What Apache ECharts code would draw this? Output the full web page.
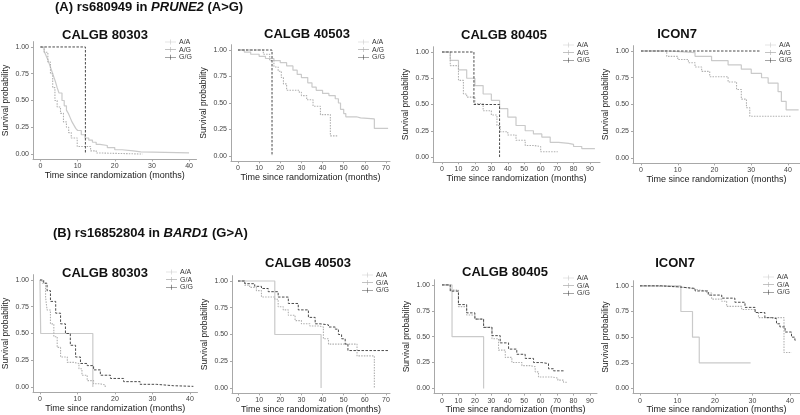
<!DOCTYPE html>
<html><head><meta charset="utf-8">
<script src="https://cdn.jsdelivr.net/npm/echarts@6/dist/echarts.min.js"></script>
<style>html,body{margin:0;padding:0;background:#fff}#c{width:800px;height:415px}</style>
</head><body><div id="c"></div>
<script>
// ---------- DATA (time in months, survival probability) ----------
const headerA = ['(A) rs680949 in ', 'PRUNE2', ' (A>G)'];
const headerB = ['(B) rs16852804 in ', 'BARD1', ' (G>A)'];
const studyTitles = ['CALGB 80303', 'CALGB 40503', 'CALGB 80405', 'ICON7'];
const genotypesA = ['A/A', 'A/G', 'G/G'];
const genotypesB = ['A/A', 'G/A', 'G/G'];
const xTicks40 = [0, 10, 20, 30, 40];
const xTicks70 = [0, 10, 20, 30, 40, 50, 60, 70];
const xTicks90 = [0, 10, 20, 30, 40, 50, 60, 70, 80, 90];
const yTicks = [0, 0.25, 0.5, 0.75, 1];
const xName = 'Time since randomization (months)';
const yName = 'Survival probability';

// (A) CALGB 80303
const A1_AA = [[0,1],[0.5,0.99],[1,0.96],[1.5,0.92],[2,0.88],[2.5,0.83],[3,0.78],[3.5,0.73],[4,0.68],[4.5,0.62],[5,0.57],[5.8,0.5],[6.4,0.45],[7,0.41],[7.5,0.38],[8,0.34],[8.5,0.3],[9,0.27],[9.5,0.24],[10,0.22],[11,0.18],[12,0.15],[13,0.13],[14,0.11],[15,0.09],[16,0.08],[18,0.06],[20,0.04],[22,0.03],[25,0.02],[27,0.01],[40,0.01]];
const A1_AG = [[0,1],[1,0.95],[2,0.86],[2.7,0.75],[3.3,0.62],[3.9,0.5],[4.5,0.44],[5.4,0.38],[6.2,0.3],[7,0.25],[7.6,0.2],[8.3,0.15],[9.9,0.07],[13.5,0.03],[15,0.01],[16,0],[27.5,0]];
const A1_GG = [[0,1],[12.1,0]];
// (A) CALGB 40503
const A2_AA = [[0,1],[3,0.98],[6,0.96],[10,0.94],[13,0.92],[17,0.9],[20,0.88],[23,0.85],[26,0.81],[28,0.77],[30,0.74],[33,0.69],[35,0.65],[37,0.62],[40,0.59],[43,0.57],[46,0.54],[47.5,0.5],[48.5,0.44],[50,0.4],[51,0.37],[56,0.36],[58,0.35],[64.5,0.26],[71,0.26]];
const A2_AG = [[0,1],[12,0.96],[15,0.9],[17,0.84],[19,0.8],[20.5,0.74],[21.5,0.68],[23,0.62],[29,0.6],[30,0.57],[32.5,0.53],[35.5,0.47],[39,0.39],[43.7,0.19],[47,0.19]];
const A2_GG = [[0,1],[16.1,0]];
// (A) CALGB 80405
const A3_AA = [[0,1],[5,0.92],[10,0.83],[15,0.75],[20,0.68],[25,0.6],[30,0.54],[35,0.46],[40,0.38],[45,0.3],[50.6,0.25],[55.6,0.22],[60.7,0.19],[65.8,0.14],[70.9,0.13],[77,0.12],[80,0.1],[85,0.08],[93,0.08]];
const A3_AG = [[0,1],[5,0.87],[10,0.73],[13,0.6],[15,0.57],[20,0.51],[25,0.44],[30,0.4],[33.4,0.3],[35.4,0.24],[40,0.21],[45,0.16],[50.6,0.11],[55.6,0.1],[60,0.05],[70.4,0.05]];
const A3_GG = [[0,1],[19.4,0.5],[35,0]];
// (A) ICON7
const A4_AA = [[0,1],[7,0.995],[10.6,0.985],[14.7,0.95],[19.2,0.91],[23.7,0.87],[27.3,0.83],[30,0.79],[32.8,0.75],[34.6,0.7],[37.3,0.62],[38.2,0.53],[39.5,0.45],[42.9,0.45]];
const A4_AG = [[0,1],[7,0.95],[10,0.92],[12.9,0.89],[14.7,0.85],[16.5,0.81],[18.7,0.76],[23.7,0.71],[26,0.64],[27.3,0.55],[28.7,0.47],[29.6,0.39],[41,0.39]];
const A4_GG = [[0,1],[32.5,1]];
// (B) CALGB 80303
const B1_AA = [[0,1],[0.2,0.5],[14.1,0]];
const B1_GA = [[0,1],[0.6,0.97],[1.5,0.84],[1.9,0.72],[2.8,0.59],[3.7,0.47],[4.6,0.37],[5.5,0.28],[7.3,0.23],[9,0.22],[10.4,0.17],[11.2,0.11],[12.6,0.06],[14.3,0.03],[16,0.02],[17.4,0]];
const B1_GG = [[0,1],[1,0.97],[1.9,0.9],[2.8,0.8],[4.2,0.69],[5.5,0.59],[6.8,0.5],[8.1,0.39],[9.5,0.28],[10.8,0.22],[12.6,0.2],[14.3,0.16],[16.1,0.11],[18.8,0.08],[22.3,0.05],[26.7,0.025],[31,0.012],[35.6,0.006],[40.9,0.006]];
// (B) CALGB 40503
const B2_AA = [[0,1],[17.4,0.5],[39.3,0]];
const B2_GA = [[0,1],[3.2,0.96],[5.5,0.94],[8.7,0.91],[11.1,0.85],[17.4,0.83],[19,0.76],[21.4,0.73],[23.8,0.68],[27,0.63],[30,0.6],[34,0.58],[38,0.57],[40.4,0.46],[42.8,0.41],[56.3,0.3],[64.5,0]];
const B2_GG = [[0,1],[3.2,0.975],[7.9,0.95],[11.1,0.93],[14.3,0.9],[19,0.85],[23.8,0.79],[28.5,0.73],[33.3,0.66],[36.5,0.6],[38.8,0.59],[42.8,0.57],[46,0.55],[47.5,0.5],[49,0.46],[50.7,0.41],[52,0.35],[71.3,0.35]];
// (B) CALGB 80405
const B3_AA = [[0,1],[6.1,0.5],[25.3,0]];
const B3_GA = [[0,1],[5,0.95],[10,0.79],[15,0.71],[20,0.67],[25.3,0.59],[30.4,0.48],[34.4,0.37],[38.5,0.3],[42.5,0.25],[48.6,0.22],[53.6,0.21],[56.7,0.16],[58.7,0.11],[66.8,0.1],[70.5,0.08],[73.9,0.06],[76.5,0.06]];
const B3_GG = [[0,1],[5,0.94],[10,0.81],[15,0.73],[20,0.67],[25.3,0.59],[30.4,0.51],[35.4,0.44],[40.5,0.38],[45.5,0.33],[50.6,0.29],[55.7,0.25],[60.7,0.24],[64.8,0.19],[67.8,0.17],[74.5,0.17]];
// (B) ICON7
const B4_AA = [[0,1],[10.9,0.75],[14,0.5],[15.8,0.25],[29.5,0.25]];
const B4_GA = [[0,1],[2.2,0.99],[10.7,0.975],[13.8,0.96],[15.6,0.95],[17.8,0.93],[19.1,0.87],[21.8,0.85],[23.1,0.8],[27.1,0.77],[30.7,0.74],[31.6,0.69],[38.4,0.35],[40.4,0.35]];
const B4_GG = [[0,1],[5.8,0.99],[10.2,0.975],[14.7,0.95],[18.2,0.91],[21.8,0.88],[25.3,0.84],[28,0.79],[30.7,0.74],[33.3,0.69],[35.1,0.68],[36.4,0.63],[37.3,0.6],[38.7,0.55],[40.4,0.5],[41.3,0.47],[41.8,0.47]];

// ---------- PANEL DEFINITIONS ----------
const panels = [
  {title: studyTitles[0], names: genotypesA, curves: [A1_AA, A1_AG, A1_GG], ticks: xTicks40},
  {title: studyTitles[1], names: genotypesA, curves: [A2_AA, A2_AG, A2_GG], ticks: xTicks70},
  {title: studyTitles[2], names: genotypesA, curves: [A3_AA, A3_AG, A3_GG], ticks: xTicks90},
  {title: studyTitles[3], names: genotypesA, curves: [A4_AA, A4_AG, A4_GG], ticks: xTicks40},
  {title: studyTitles[0], names: genotypesB, curves: [B1_AA, B1_GA, B1_GG], ticks: xTicks40},
  {title: studyTitles[1], names: genotypesB, curves: [B2_AA, B2_GA, B2_GG], ticks: xTicks70},
  {title: studyTitles[2], names: genotypesB, curves: [B3_AA, B3_GA, B3_GG], ticks: xTicks90},
  {title: studyTitles[3], names: genotypesB, curves: [B4_AA, B4_GA, B4_GG], ticks: xTicks40}
];

// ---------- LAYOUT & STYLE ----------
const layout = [
  {left:32.5, top:41.6, width:164, height:117.8, xmin:-2, xmax:42, tx:105, ty:29, lx:165, ly:38.5},
  {left:231, top:44.7, width:159, height:116.6, xmin:-3.3, xmax:71.9, tx:307, ty:28, lx:358, ly:38.5},
  {left:433, top:46.75, width:167, height:115.5, xmin:-5.5, xmax:96.1, tx:504, ty:29, lx:563, ly:41.5},
  {left:633, top:45.65, width:167, height:117.7, xmin:-2.18, xmax:43.27, tx:677, ty:28, lx:765, ly:41.5},
  {left:32, top:274.65, width:165.5, height:117.7, xmin:-1.85, xmax:42, tx:105, ty:267, lx:166, ly:268.5},
  {left:232, top:275.65, width:158, height:117.7, xmin:-2.84, xmax:71.9, tx:308, ty:257, lx:362, ly:271.5},
  {left:434, top:279.75, width:163, height:115.5, xmin:-4.87, xmax:94.3, tx:505, ty:266, lx:563, ly:274.5},
  {left:633, top:280.7, width:167, height:116.6, xmin:-1.87, xmax:42.67, tx:675, ty:257, lx:763, ly:273.5}
];
const lineStyles = [
  {color:'#cacaca', width:1.2, type:'solid'},
  {color:'#b0b0b0', width:1.1, type:[1.5,1.2]},
  {color:'#4a4a4a', width:1, type:[2.5,1.5]}
];
const legendIcon = 'path://M0,4.4h22v1.2h-22z M10.4,0h1.2v10h-1.2z';
const FONT = 'Liberation Sans, Arial, sans-serif';
const axisColor = '#a8a8a8';
const labelColor = '#444';

const grids = [], xAxes = [], yAxes = [], series = [], legends = [], titles = [];
const headerRich = {b:{fontFamily:FONT,fontSize:13,fontWeight:'bold',color:'#111'},
                    i:{fontFamily:FONT,fontSize:13,fontWeight:'bold',fontStyle:'italic',color:'#111'}};
titles.push({left:55, top:1, padding:0, text:'{b|'+headerA[0]+'}{i|'+headerA[1]+'}{b|'+headerA[2]+'}',
  textStyle:{rich:headerRich}});
titles.push({left:53, top:227, padding:0, text:'{b|'+headerB[0]+'}{i|'+headerB[1]+'}{b|'+headerB[2]+'}',
  textStyle:{rich:headerRich}});

panels.forEach((p, i) => {
  const L = layout[i];
  grids.push({left:L.left, top:L.top, width:L.width, height:L.height, containLabel:false});
  titles.push({text:p.title, left:L.tx, top:L.ty, textAlign:'center', padding:0,
    textStyle:{fontFamily:FONT, fontSize:13, fontWeight:'bold', color:'#111'}});
  xAxes.push({type:'value', gridIndex:i, min:L.xmin, max:L.xmax,
    name:xName, nameLocation:'middle', nameGap:11,
    nameTextStyle:{fontFamily:FONT, fontSize:9, color:'#222'},
    axisLine:{show:true, onZero:false, lineStyle:{color:axisColor, width:1}},
    axisTick:{show:true, length:2, customValues:p.ticks, lineStyle:{color:axisColor}},
    axisLabel:{customValues:p.ticks, fontFamily:FONT, fontSize:7, color:labelColor, margin:3.5},
    splitLine:{show:false}});
  yAxes.push({type:'value', gridIndex:i, min:-0.05, max:1.05,
    name:yName, nameLocation:'middle', nameGap:23,
    nameTextStyle:{fontFamily:FONT, fontSize:8.5, color:'#222'},
    axisLine:{show:true, onZero:false, lineStyle:{color:axisColor, width:1}},
    axisTick:{show:true, length:2, customValues:yTicks, lineStyle:{color:axisColor}},
    axisLabel:{customValues:yTicks, fontFamily:FONT, fontSize:7, color:labelColor, margin:4,
      formatter: v => v.toFixed(2)},
    splitLine:{show:false}});
  p.curves.forEach((c, k) => {
    const st = lineStyles[k];
    series.push({type:'line', name:p.names[k], xAxisIndex:i, yAxisIndex:i, step:'end',
      showSymbol:false, symbol:'none', silent:true, animation:false, z: 2 + (k===2?1:0),
      itemStyle:{color:st.color},
      lineStyle:{color:st.color, width:st.width, type:st.type},
      data:c});
  });
  legends.push({orient:'vertical', left:L.lx, top:L.ly, padding:0, itemGap:0.6,
    itemWidth:11, itemHeight:6.5, icon:legendIcon, selectedMode:false,
    data:p.names.map((n, k) => ({name:n, itemStyle:{color:lineStyles[k].color}})),
    textStyle:{fontFamily:FONT, fontSize:7, color:'#333', padding:[0,0,0,-2]}});
});

const chart = echarts.init(document.getElementById('c'), null, {renderer:'canvas'});
chart.setOption({animation:false, backgroundColor:'#fff', title:titles, grid:grids,
  xAxis:xAxes, yAxis:yAxes, legend:legends, series:series});
</script></body></html>
